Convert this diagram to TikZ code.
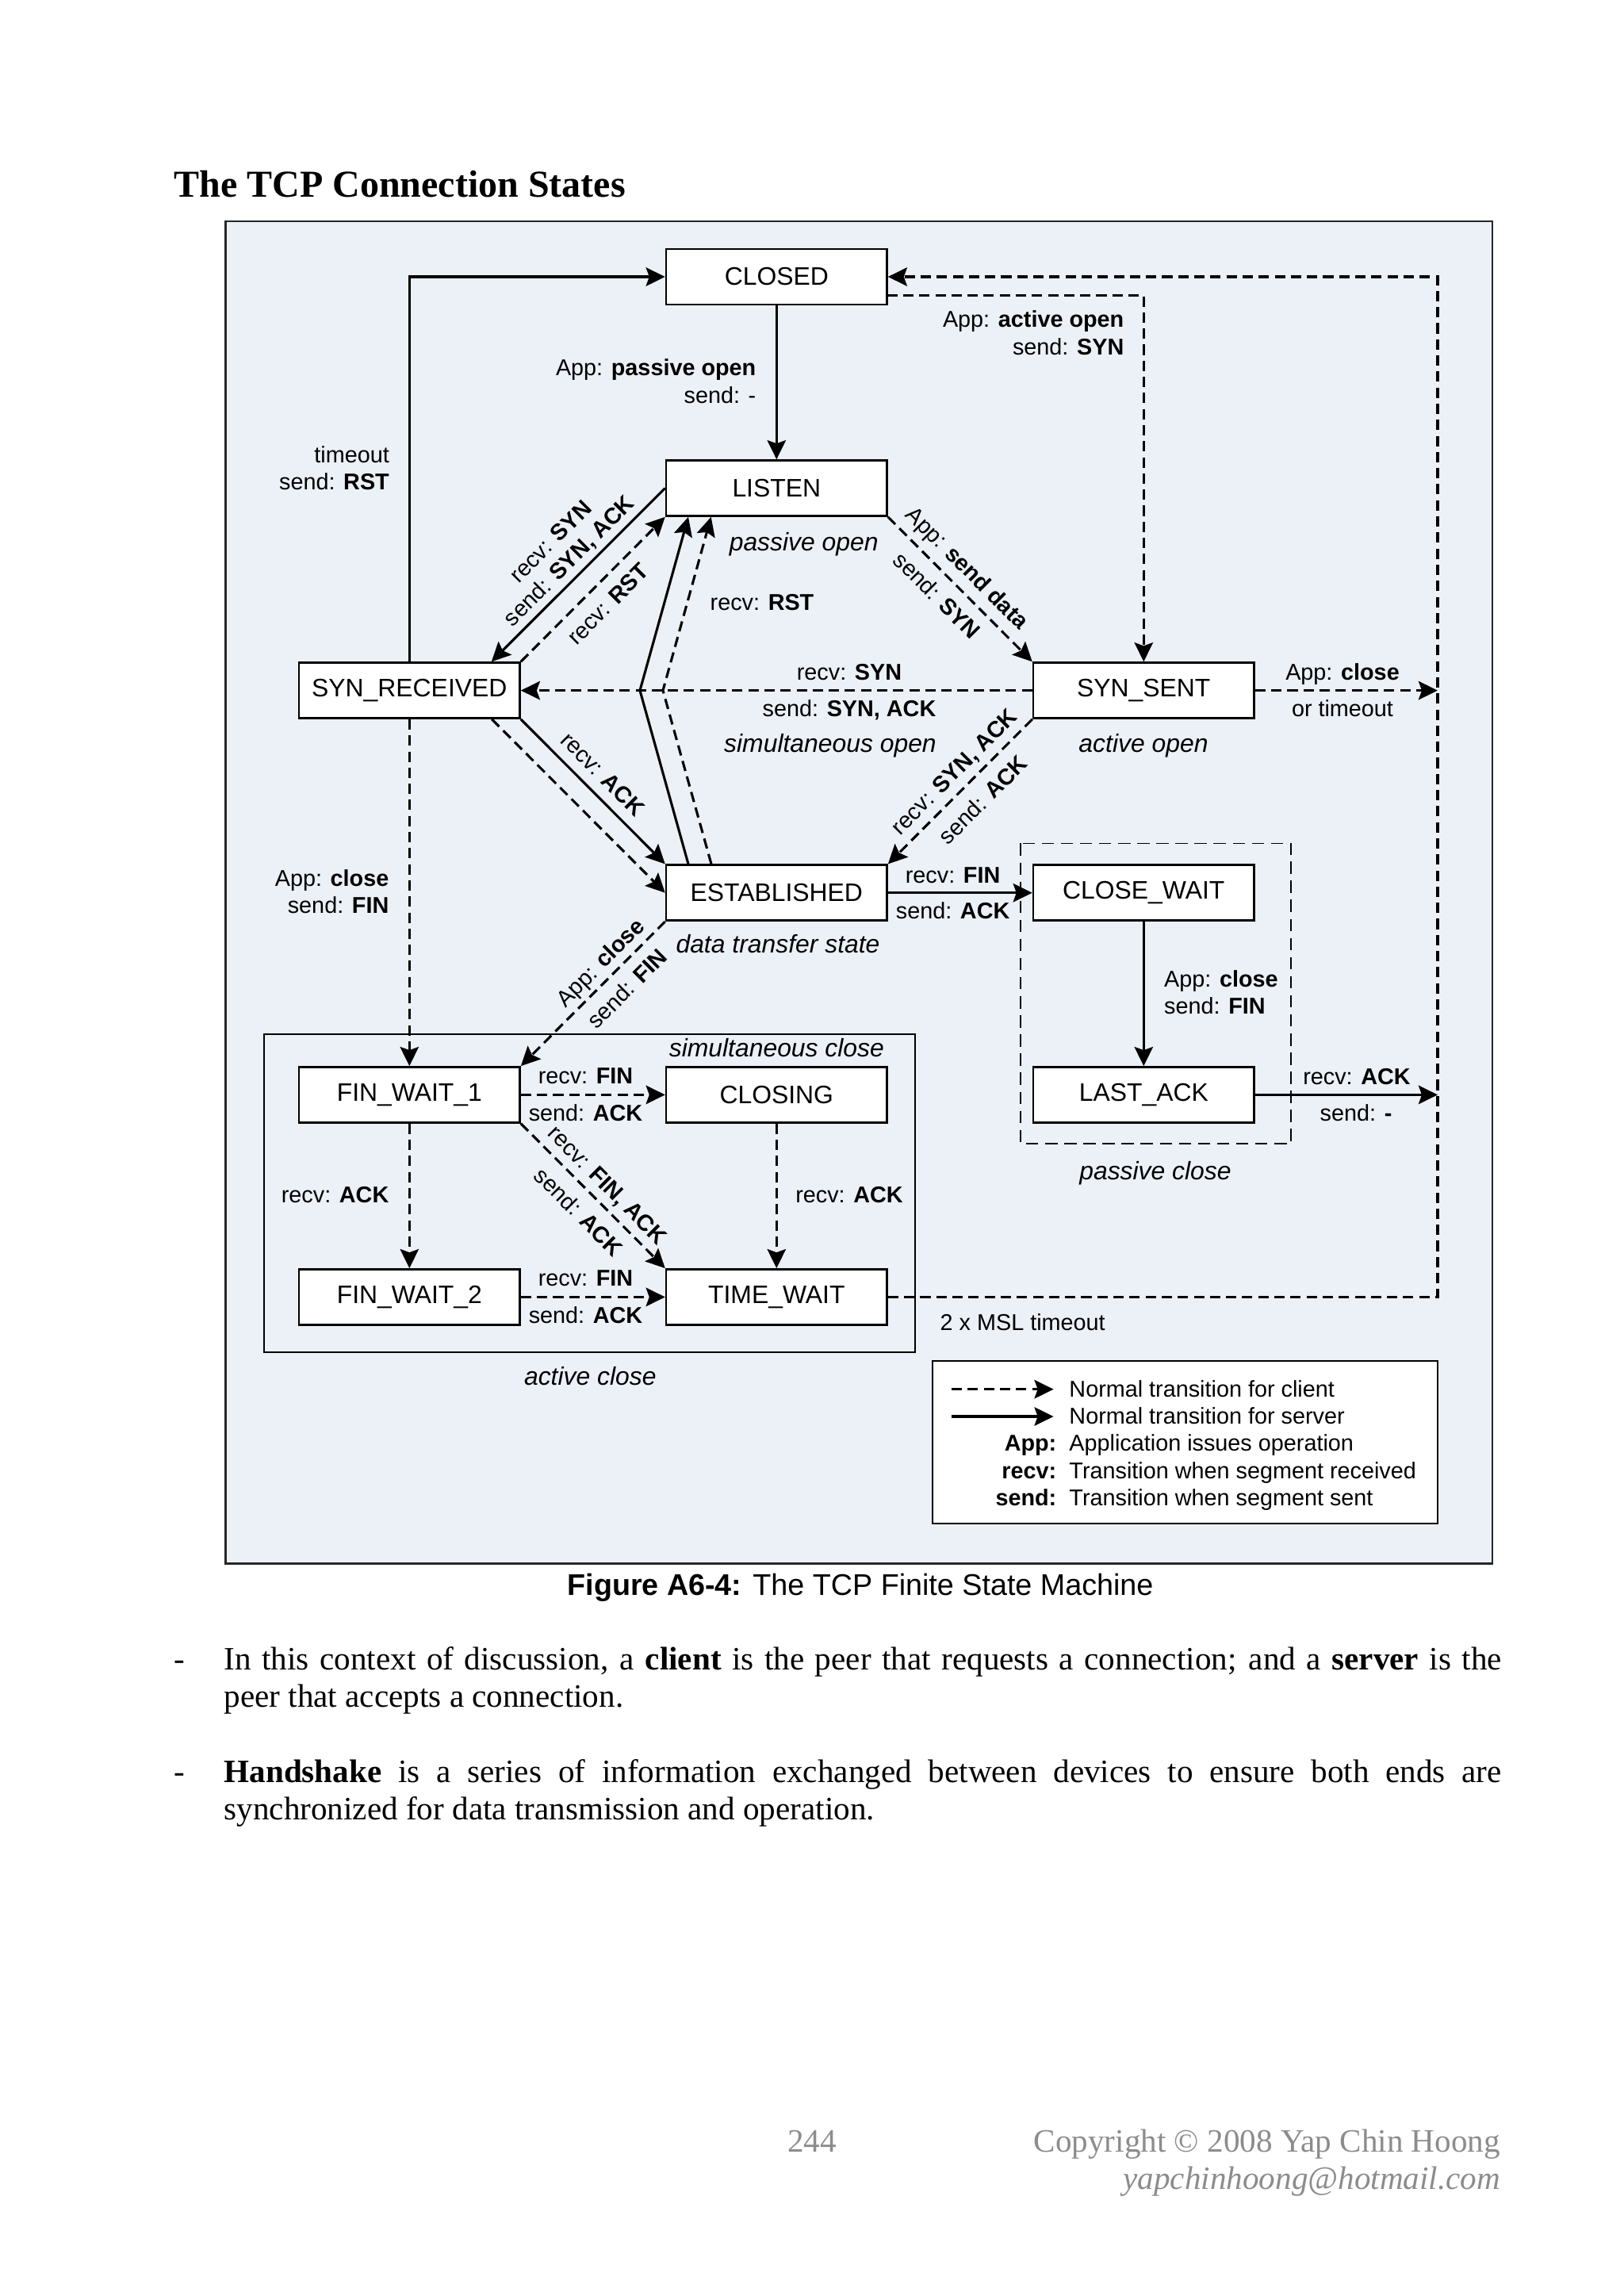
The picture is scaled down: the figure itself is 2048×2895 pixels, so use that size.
\documentclass[tikz,border=0pt]{standalone}
\usepackage{fontspec}
\setmainfont{Liberation Serif}
\newfontfamily\arialf{Liberation Sans}
\usetikzlibrary{arrows.meta,calc}
\definecolor{panel}{RGB}{236,240,247}
\definecolor{footgray}{RGB}{140,140,140}
\newcommand{\myStateFont}{\arialf\fontsize{9.3}{11}\selectfont}
\newcommand{\myLblFont}{\arialf\fontsize{8.4}{10}\selectfont}
\newcommand{\myNoteFont}{\arialf\itshape\fontsize{9.3}{11}\selectfont}
\begin{document}
\begin{tikzpicture}[x=0.29066bp,y=-0.29066bp,
  stbox/.style={draw=black, line width=0.75bp, fill=white, minimum width=80.95bp, minimum height=20.35bp, inner sep=0pt, font=\myStateFont},
  conn/.style={line width=0.9bp, -{Stealth[length=7bp,width=6.8bp,inset=1.2bp]}},
  server/.style={conn},
  client/.style={conn, dash pattern=on 3.8bp off 2.1bp},
  lbl/.style={inner sep=0pt, font=\myLblFont},
  note/.style={inner sep=0pt, font=\myNoteFont},
]
\fill[white] (0,0) rectangle (2048,2895);
\useasboundingbox (0,0) rectangle (2048,2895);

% title
\node[anchor=base west, inner sep=0pt, font={\bfseries\fontsize{14}{16}\selectfont}] (title) at (219,248) {The TCP Connection States};

% panel
\draw[fill=panel, draw=black!85, line width=0.8bp] (284.8,279) rectangle (1882,1971.7);

% group frames
\draw[line width=0.6bp] (333,1303.6) rectangle (1153.7,1705.4);
\draw[line width=0.5bp, dash pattern=on 4.5bp off 2.5bp] (1287.2,1063.4) rectangle (1628,1442);

% states
\node[stbox] (closed) at (979.3,349) {CLOSED};
\node[stbox] (listen) at (979.3,615.5) {LISTEN};
\node[stbox] (synrcvd) at (516.3,870.6) {SYN\_RECEIVED};
\node[stbox] (synsent) at (1442.3,870.6) {SYN\_SENT};
\node[stbox] (estab) at (979.3,1125.7) {ESTABLISHED};
\node[stbox] (closewait) at (1442.3,1125.7) {CLOSE\_WAIT};
\node[stbox] (finwait1) at (516.3,1380.4) {FIN\_WAIT\_1};
\node[stbox] (closing) at (979.3,1380.4) {CLOSING};
\node[stbox] (lastack) at (1442.3,1380.4) {LAST\_ACK};
\node[stbox] (finwait2) at (516.3,1635.4) {FIN\_WAIT\_2};
\node[stbox] (timewait) at (979.3,1635.4) {TIME\_WAIT};

% helper coordinates
\coordinate (rtop) at (1813,349);
\coordinate (rbot) at (1813,1635.4);
\coordinate (closedlo) at (1118.6,372.5);
\coordinate (k1) at (807,870.6);
\coordinate (k2) at (836,870.6);

% connectors
\draw[server] (synrcvd.north) |- (closed.west);
\draw[server] (closed) -- (listen);
\draw[client] (closedlo) -| (synsent.north);
\draw[client] (timewait.east) -- (rbot) -- (rtop) -- (closed.east);
\draw[client] (synsent.east) -- (synsent.east -| rtop);
\draw[server] (lastack.east) -- (lastack.east -| rtop);
\draw[client] (listen.south east) -- (synsent.north west);
\draw[client] (synsent.west) -- (synrcvd.east);
\draw[server] (listen.west) -- ($(synrcvd.north)+(103.5,0)$);
\draw[client] (synrcvd.north east) -- (listen.south west);
\draw[server] (synrcvd.south east) -- (estab.north west);
\draw[client] ($(synrcvd.south)+(104,0)$) -- (estab.west);
\draw[server] ($(estab.north)+(-111.3,0)$) -- (k1) -- ($(listen.south)+(-111.3,0)$);
\draw[client] ($(estab.north)+(-82.3,0)$) -- (k2) -- ($(listen.south)+(-82.6,0)$);
\draw[client] (synsent.south west) -- (estab.north east);
\draw[server] (estab.east) -- (closewait.west);
\draw[server] (closewait) -- (lastack);
\draw[client] (estab.south west) -- (finwait1.north east);
\draw[client] (synrcvd) -- (finwait1);
\draw[client] (finwait1) -- (closing);
\draw[client] (finwait1) -- (finwait2);
\draw[client] (finwait1.south east) -- (timewait.north west);
\draw[client] (closing) -- (timewait);
\draw[client] (finwait2) -- (timewait);

% labels
\node[lbl, anchor=base east] (l1a) at (491.5,583) {timeout};
\node[lbl, anchor=base east] (l1b) at (491.5,617) {send: \textbf{RST}};
\node[lbl, anchor=base east] (l2a) at (954,473) {App: \textbf{passive open}};
\node[lbl, anchor=base east] (l2b) at (954,508) {send: -};
\node[lbl, anchor=base east] (l3a) at (1418,412.6) {App: \textbf{active open}};
\node[lbl, anchor=base east] (l3b) at (1418,447) {send: \textbf{SYN}};
\node[lbl, rotate=-45] (l4a) at (1218.5,717.7) {App: \textbf{send data}};
\node[lbl, rotate=-45] (l4b) at (1181.7,750.4) {send: \textbf{SYN}};
\node[lbl, rotate=45] (l5a) at (694,682.5) {recv: \textbf{SYN}};
\node[lbl, rotate=45] (l5b) at (718.5,708) {send: \textbf{SYN, ACK}};
\node[lbl, rotate=45] (l6) at (766.6,761.7) {recv: \textbf{RST}};
\node[lbl, anchor=base west] (l7) at (895,769.4) {recv: \textbf{RST}};
\node[lbl, anchor=base] (l8a) at (1071,857) {recv: \textbf{SYN}};
\node[lbl, anchor=base] (l8b) at (1071,903.5) {send: \textbf{SYN, ACK}};
\node[lbl, anchor=base] (l9a) at (1693,857.3) {App: \textbf{close}};
\node[lbl, anchor=base] (l9b) at (1693,903.3) {or timeout};
\node[lbl, rotate=-45] (l10) at (760.2,976) {recv: \textbf{ACK}};
\node[lbl, rotate=45] (l11a) at (1204.5,974.2) {recv: \textbf{SYN, ACK}};
\node[lbl, rotate=45] (l11b) at (1239.4,1008.3) {send: \textbf{ACK}};
\node[lbl, anchor=base] (l12a) at (1201.6,1113) {recv: \textbf{FIN}};
\node[lbl, anchor=base] (l12b) at (1201.6,1158.5) {send: \textbf{ACK}};
\node[lbl, anchor=base west] (l13a) at (1467.5,1244) {App: \textbf{close}};
\node[lbl, anchor=base west] (l13b) at (1467.5,1278) {send: \textbf{FIN}};
\node[lbl, anchor=base east] (l14a) at (491,1117) {App: \textbf{close}};
\node[lbl, anchor=base east] (l14b) at (491,1151) {send: \textbf{FIN}};
\node[lbl, rotate=45] (l15a) at (758.6,1215.2) {App: \textbf{close}};
\node[lbl, rotate=45] (l15b) at (790.5,1246.4) {send: \textbf{FIN}};
\node[lbl, anchor=base] (l16a) at (738.5,1366.5) {recv: \textbf{FIN}};
\node[lbl, anchor=base] (l16b) at (738.5,1413.5) {send: \textbf{ACK}};
\node[lbl, anchor=base] (l17a) at (1711,1367) {recv: \textbf{ACK}};
\node[lbl, anchor=base] (l17b) at (1710,1413.8) {send: \textbf{-}};
\node[lbl, anchor=base east] (l18) at (491,1516.5) {recv: \textbf{ACK}};
\node[lbl, anchor=base west] (l19) at (1002.6,1516.5) {recv: \textbf{ACK}};
\node[lbl, rotate=-45] (l20a) at (765,1495.3) {recv: \textbf{FIN, ACK}};
\node[lbl, rotate=-45] (l20b) at (729.9,1527.7) {send: \textbf{ACK}};
\node[lbl, anchor=base] (l21a) at (738.5,1621.5) {recv: \textbf{FIN}};
\node[lbl, anchor=base] (l21b) at (738.5,1668.5) {send: \textbf{ACK}};
\node[lbl, anchor=base west] (l22) at (1185,1677) {2 x MSL timeout};

% notes
\node[note, anchor=base] (n1) at (1013.7,694.8) {passive open};
\node[note, anchor=base] (n2) at (1047,948) {simultaneous open};
\node[note, anchor=base] (n3) at (1442,948) {active open};
\node[note, anchor=base] (n4) at (981,1201.8) {data transfer state};
\node[note, anchor=base] (n5) at (979.4,1332) {simultaneous close};
\node[note, anchor=base] (n6) at (1457,1487.5) {passive close};
\node[note, anchor=base] (n7) at (744.3,1746.4) {active close};

% legend
\draw[fill=white, line width=0.6bp] (1176,1716) rectangle (1813.4,1920.7);
\coordinate (lg1s) at (1200,1751.7);
\coordinate (lg1e) at (1328.6,1751.7);
\coordinate (lg2s) at (1200,1786);
\coordinate (lg2e) at (1328.6,1786);
\draw[client] (lg1s) -- (lg1e);
\draw[server] (lg2s) -- (lg2e);
\node[lbl, anchor=base west] (lt1) at (1347.8,1761) {Normal transition for client};
\node[lbl, anchor=base west] (lt2) at (1347.8,1795) {Normal transition for server};
\node[lbl, anchor=base west] (lt3) at (1347.8,1829.5) {Application issues operation};
\node[lbl, anchor=base west] (lt4) at (1347.8,1864) {Transition when segment received};
\node[lbl, anchor=base west] (lt5) at (1347.8,1898) {Transition when segment sent};
\node[lbl, anchor=base east] (lk3) at (1333,1829.5) {\textbf{App:}};
\node[lbl, anchor=base east] (lk4) at (1333,1864) {\textbf{recv:}};
\node[lbl, anchor=base east] (lk5) at (1333,1898) {\textbf{send:}};

% caption
\node[anchor=base, inner sep=0pt, font={\arialf\fontsize{11}{13}\selectfont}] (cap) at (1085,2011.7) {\textbf{Figure A6-4:} The TCP Finite State Machine};

% body text
\node[anchor=base, inner sep=0pt, font={\fontsize{12}{14}\selectfont}] (bul1) at (226,2105) {-};
\node[anchor=base west, inner sep=0pt] (par1) at (282,2105) {\parbox[t]{468.3bp}{\fontsize{12}{13.95}\selectfont In this context of discussion, a \textbf{client} is the peer that requests a connection; and a \textbf{server} is the\linebreak peer that accepts a connection.}};
\node[anchor=base, inner sep=0pt, font={\fontsize{12}{14}\selectfont}] (bul2) at (226,2247) {-};
\node[anchor=base west, inner sep=0pt] (par2) at (282,2247) {\parbox[t]{468.3bp}{\fontsize{12}{13.95}\selectfont \textbf{Handshake} is a series of information exchanged between devices to ensure both ends are\linebreak synchronized for data transmission and operation.}};

% footer
\node[anchor=base, inner sep=0pt, text=footgray, font={\fontsize{12}{14}\selectfont}] (pg) at (1024,2713) {244};
\node[anchor=base east, inner sep=0pt, text=footgray, font={\fontsize{12}{14}\selectfont}] (copy) at (1892.6,2713) {Copyright \textcopyright{} 2008 Yap Chin Hoong};
\node[anchor=base east, inner sep=0pt, text=footgray, font={\itshape\fontsize{12}{14}\selectfont}] (mail) at (1892.6,2760) {yapchinhoong@hotmail.com};
\end{tikzpicture}
\end{document}
